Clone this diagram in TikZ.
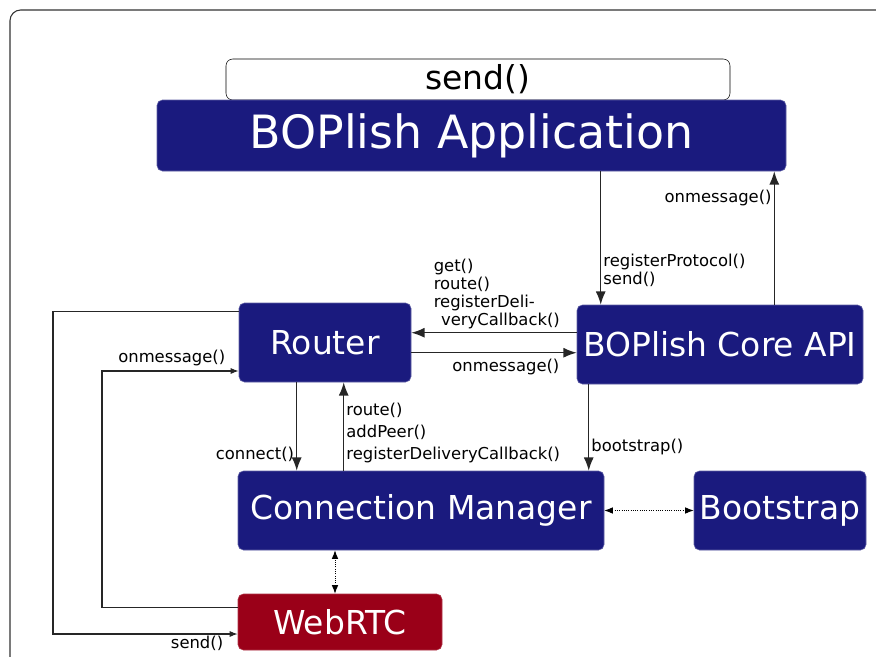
\documentclass[tikz,border=0pt]{standalone}
\usepackage{fontspec}
\setmainfont{DejaVu Sans}
\definecolor{bopnavy}{RGB}{26, 26, 126}
\definecolor{bopred}{RGB}{154, 0, 24}
\usetikzlibrary{arrows.meta, positioning, calc}

\begin{document}
\begin{tikzpicture}[
  x=0.75pt, y=-0.75pt,
  mbox/.style={draw=bopnavy!70, fill=bopnavy, text=white, rounded corners=4pt, inner sep=0pt, minimum height=59.25pt, font=\fontsize{24.7}{29}\selectfont},
  rbox/.style={mbox, draw=bopred!80, fill=bopred},
  lbl/.style={inner sep=1.5pt, align=left, font=\fontsize{12.3}{13.5}\selectfont},
  arr/.style={draw=black!85, line width=1pt, -{Latex[length=10pt, width=7.5pt]}},
  loop/.style={draw=black!85, line width=0.8pt, -{Latex[length=6pt, width=4.5pt]}},
  dots/.style={draw=black, line width=0.7pt, densely dotted, {Latex[length=6.5pt, width=5pt]}-{Latex[length=6.5pt, width=5pt]}}
]
  \useasboundingbox (0,0) rectangle (876,657);
  \draw[black!80, line width=0.8pt, rounded corners=8pt] (10,10) rectangle (900,700);

  % boxes
  \node[draw=black, fill=white, rounded corners=5pt, minimum width=378pt, minimum height=30.75pt, inner sep=0pt, font=\fontsize{24.7}{28}\selectfont] (sendbox) at (478,79.5) {send()};
  \node[mbox, minimum width=471.75pt, minimum height=53.25pt, font=\fontsize{34.4}{40}\selectfont] (app) at (471.5,135.5) {BOPlish Application};
  \node[mbox, minimum width=129pt] (router) at (325,342.5) {Router};
  \node[mbox, minimum width=214.5pt] (core) at (720,344.5) {BOPlish Core API};
  \node[mbox, minimum width=274.5pt] (cm) at (421,510.5) {Connection Manager};
  \node[mbox, minimum width=129pt] (boot) at (780,510.5) {Bootstrap};
  \node[rbox, minimum width=153pt, minimum height=42pt] (webrtc) at (340,622) {WebRTC};

  \coordinate (cin) at ([xshift=18pt]core.north west);
  \coordinate (cout) at ([xshift=-66.75pt]core.north east);
  \coordinate (lp1) at (102,371);
  \coordinate (lp2) at (53,634);

  % application <-> core
  \draw[arr] (app.south -| cin) -- (cin)
    node[lbl, anchor=west, pos=0.74] (regl) {registerProtocol()\\send()};
  \draw[arr] (cout) -- (app.south -| cout)
    node[lbl, anchor=east, pos=0.8] (appmsg) {onmessage()};

  % core <-> router
  \draw[arr] ([yshift=-21pt]core.north west) -- ([yshift=-21pt]core.north west -| router.east)
    node[lbl, anchor=south west, pos=0.88, yshift=1pt] (getl) {get()\\route()\\registerDeli-\\\hspace{0.45em}veryCallback()};
  \draw[arr] ([yshift=-37.5pt]router.north east) -- ([yshift=-37.5pt]router.north east -| core.west)
    node[lbl, anchor=north, pos=0.572, yshift=-3pt] (routermsg) {onmessage()};

  % router <-> connection manager
  \draw[arr] ([xshift=43.5pt]router.south west) -- ([xshift=43.5pt]router.south west |- cm.north)
    node[lbl, anchor=east, pos=0.82] (connl) {connect()};
  \draw[arr] ([xshift=78.75pt]router.south west |- cm.north) -- ([xshift=78.75pt]router.south west)
    node[lbl, anchor=west, pos=0.427, font=\fontsize{12.3}{16.5}\selectfont] (cml) {route()\\addPeer()\\registerDeliveryCallback()};

  % core -> connection manager
  \draw[arr] ([xshift=9pt]core.south west) -- ([xshift=9pt]core.south west |- cm.north)
    node[lbl, anchor=west, pos=0.724] (bootl) {bootstrap()};

  % dotted links
  \draw[dots] (cm.east) -- (boot.west);
  \draw[dots] ([xshift=-3.75pt]webrtc.north) -- ([xshift=-3.75pt]webrtc.north |- cm.south);

  % webrtc loops
  \draw[loop] ([yshift=-10.5pt]webrtc.north west) -| (lp1) -- (lp1 -| router.west)
    node[lbl, anchor=south east, pos=0.92, yshift=2pt] (rtcmsg) {onmessage()};
  \draw[loop] ([yshift=-6.75pt]router.north west) -| (lp2) -- (lp2 -| webrtc.west)
    node[lbl, anchor=north east, pos=0.935] (rtcsend) {send()};
\end{tikzpicture}
\end{document}
